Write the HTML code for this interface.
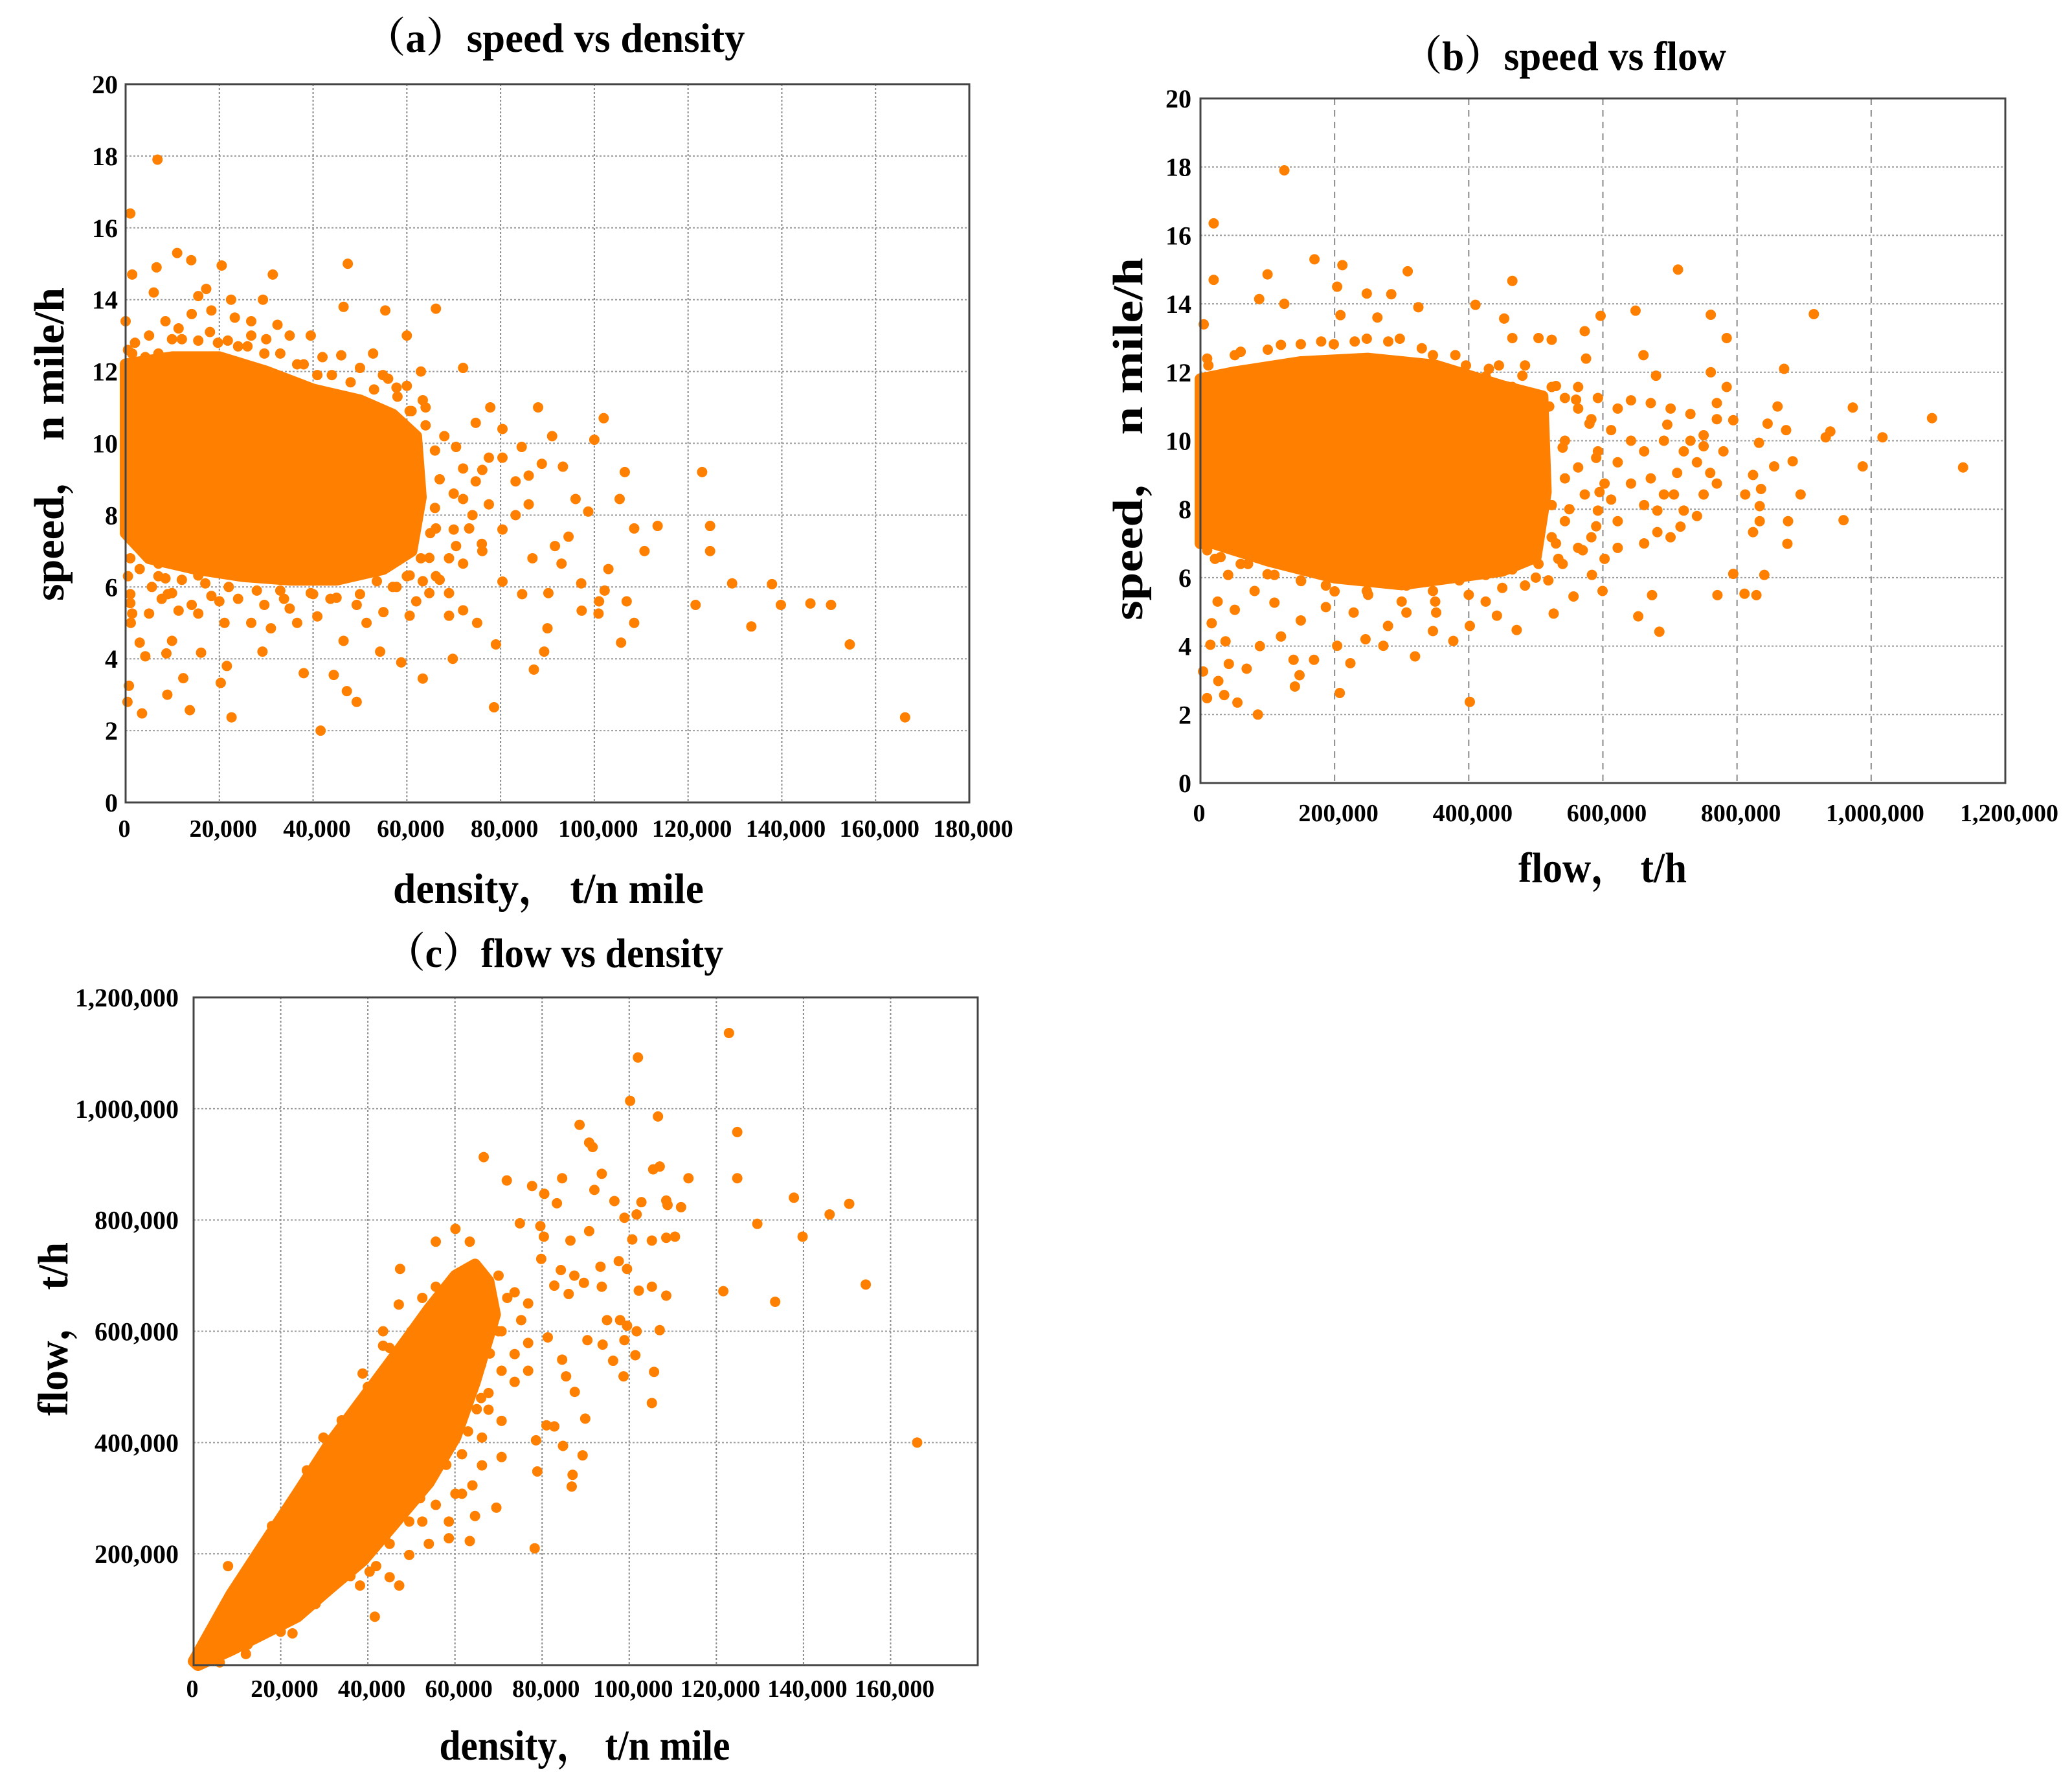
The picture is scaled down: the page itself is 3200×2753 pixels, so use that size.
<!DOCTYPE html>
<html><head><meta charset="utf-8"><title>Traffic flow scatter plots</title>
<style>
html,body{margin:0;padding:0;background:#fff;}
svg{display:block;}
text{font-family:"Liberation Serif","Noto Serif CJK SC",serif;font-weight:bold;fill:#000;}
</style></head>
<body>
<svg id="fig" width="3200" height="2753" viewBox="0 0 3200 2753" xmlns="http://www.w3.org/2000/svg"></svg>
<script>
// ---------- Chart (a): speed vs density ----------
const aTicksX = [0,20000,40000,60000,80000,100000,120000,140000,160000,180000];
const aTicksY = [0,2,4,6,8,10,12,14,16,18,20];
const aCoreX = [0,10,20,30,40,50,57,62,63,61,55,45,35,25,15,5,0];
const aCoreY = [12.2,12.4,12.4,12.0,11.5,11.2,10.8,10.2,8.5,7.0,6.5,6.2,6.2,6.3,6.5,6.8,7.5];
const aDensity = [6.8,1,11,14,20.5,47.4,31.4,1.4,6.6,6,17.2,29.3,22.5,46.5,55.4,66.2,0,35,39.5,60,52.8,63,72,46,77.8,88,102,100,91,84.5,106.5,123,93.3,98.7,105.4,96,124.7,124.7,113.5,108.5,110.7,129.4,137.9,121.6,139.8,146.1,150.5,133.5,154.5,166.3,105.7,106.9,108.5,101,102.2,97.2,103,90,89.3,87.1,79,78.6,69.8,63.4,58.8,54.3,49.3,41.6,38,47.2,44.4,29.2,22.6,21.6,20.3,13.7,12.3,8.9,3.5,0.4,0.7,8.7,4.2,16.1,3,9.9,5,1,1.4,1.1,72,75,69,66.2,72,76.1,80.4,83.2,86,86.8,80.4,84.6,93,94.5,91.6,90.2,97.3,100.9,74.7,77.5,80.4,74.7,70.5,72,77.5,66.2,64.8,60.6,57.8,51.4,46.5,40.9,36.6,31,26.8,21.1,15.5,11.3,7.7,5.6,7,8.5,83.2,88.8,86,80.4,76.1,73.3,70.5,64.8,63.4,69,60.6,53.6,49.3,43.7,39.5,33.8,29.6,24,18.3,14.1,9.9,11.3,15.5,60.6,63.4,57.8,54.9,40.9,36.6,29.6,24,19.7,15.5,11.3,8.5,7,4.2,1.4,9.9,14.1,18.3,23.3,26.8,32.4,21.8,26.8,15.5,
  2,5,12,18,26,33,38,44,48,53,58,61,64,66,67,66,65,63,60,57,50,45,40,33,28,22,17,12,7,3,1,68,70,70,69,67,72,74,76,64,60,56,50,42,30,0.5,0.5,1,9,20,35,55,62];
const aSpeed = [17.9,16.4,15.3,15.1,14.95,15.0,14.7,14.7,14.9,14.2,14.3,14.0,14.0,13.8,13.7,13.75,13.4,13.0,13.0,13.0,12.5,12.0,12.1,12.45,11.0,11.0,10.7,10.1,10.2,9.9,9.2,9.2,9.35,8.1,8.45,8.45,7.7,7.0,7.7,7.63,7.0,6.1,6.08,5.5,5.5,5.54,5.5,4.9,4.4,2.37,4.45,5.6,5.0,5.6,5.9,6.1,6.5,4.85,4.2,3.7,4.4,2.65,4.0,3.45,3.9,4.2,2.8,2.0,3.6,3.1,3.55,4.2,2.37,3.8,3.33,2.57,3.46,3.0,2.48,2.8,3.25,4.15,4.07,4.17,4.45,4.5,5.26,5.55,5.26,5.0,5.35,5.0,5.2,6.3,6.65,7.0,7.6,8.0,8.3,6.8,6.15,5.8,6.65,7.4,7.14,5.83,5.34,5.26,8.94,9.6,10.4,10.57,9.9,8.45,8.3,7.63,5.83,5.2,6.0,5.0,4.5,5.18,5.0,4.85,5.0,5.0,5.26,5.34,5.67,6.0,6.65,6.24,8.94,9.43,9.1,9.6,9.26,7.63,7.14,6.81,6.16,5.83,6.32,6.16,5.5,5.67,5.83,5.67,5.5,5.67,5.75,5.5,5.83,6.65,6.32,10.9,11.2,11.55,11.9,11.9,12.2,12.5,12.7,12.8,12.86,13.2,13.4,12.5,12.4,12.5,12.9,13.6,13.7,13.5,13.0,13.3,12.86,13.4,14.1,
  12.8,13.0,12.9,13.1,12.7,12.5,12.2,11.9,11.7,11.5,11.3,10.9,10.5,9.8,9.0,8.2,7.5,6.8,6.3,6.0,5.8,5.7,5.8,5.9,5.9,6.0,6.1,6.2,6.3,6.5,6.8,10.2,8.6,7.6,6.8,6.2,9.3,8.0,7.2,11.0,11.6,11.8,12.1,12.4,12.9,12.6,6.3,5.8,5.8,5.6,5.4,5.3,5.6];

// ---------- Chart (b): speed vs flow ----------
const bTicksX = [0,200000,400000,600000,800000,1000000,1200000];
const bTicksY = [0,2,4,6,8,10,12,14,16,18,20];
const bCoreX = [0,50,150,250,350,450,510,515,500,450,300,200,100,20,0];
const bCoreY = [11.8,12.0,12.3,12.4,12.2,11.6,11.3,8.5,6.6,6.2,5.8,6.0,6.5,7.0,7.0];
const bFlow = [125,19.7,170,211.6,309,712,19.7,100,465,203.8,248,284.5,87.6,125,324.9,410,4.9,208.7,263.8,452.8,596.6,648.7,760.9,914.5,572.9,784.6,504,523.7,465,660.5,574.9,760.9,870.2,679.2,860.4,972.6,1090.7,1016.9,939.1,932.2,987.4,1137,845.6,832.8,873.2,794.4,883,855.4,823.9,894.8,835.8,812.2,833.8,833.8,823.9,958.8,876.1,875.1,794.4,840.7,770.8,811.2,828.9,684.2,652.7,673.3,599.5,526.6,556.2,471.5,442,401.6,377,319.9,401.6,207.7,85.6,55.1,9.8,35.4,3.9,26.6,68.9,42.3,37.4,14.8,88.6,140.8,147.7,138.8,169.3,223.5,272.7,346.6,279.6,203.8,246.1,120.1,16.7,25.6,51.2,80.7,110.3,149.6,187,228.4,307.1,351.4,425.3,483.9,518.7,583.7,602.5,622.1,661.5,681.2,700.9,715.7,740.3,750.2,769.9,760,740.3,720.6,750.2,769.9,730.5,701,671.4,641.9,622.1,641.9,661.5,622.1,641.9,671.4,691,661.5,622.1,681.2,710.7,691,612.3,602.5,612.3,730.5,705.9,720.6,779.7,784.6,769.9,750.2,696,523.7,543.4,563.1,582.8,543.4,563.1,573,543.4,523.7,563.1,582.8,592.6,592.6,543.4,523.7,504,563.1,592.6,533.6,504,465,425.3,386,346.6,307.1,248,187,149.6,110.3,70.9,41.3,21.7,11.8,6.9,11.8,51.2,100.4,149.6,198.8,248,297.2,346.6,395.8,445,483.9,465,425.3,
  10,60,120,180,230,280,330,380,430,480,530,560,580,590,595,590,570,540,500,450,400,350,300,250,200,150,100,60,30,10,5,5,540,550,530,520];
const bSpeed = [17.9,16.35,15.3,15.13,14.95,15.0,14.7,14.86,14.67,14.5,14.3,14.28,14.14,14.0,13.9,13.97,13.4,13.67,13.6,13.57,13.65,13.8,13.68,13.7,13.2,13.0,13.0,12.95,13.0,12.5,12.4,12.0,12.1,11.9,11.0,10.97,10.66,10.1,10.27,10.1,9.25,9.22,10.5,9.94,10.31,10.6,9.4,9.25,9.0,8.43,8.59,8.43,8.09,7.65,7.33,7.68,7.65,6.99,6.11,6.08,5.49,5.53,5.49,4.42,4.87,5.49,5.61,4.95,5.45,4.47,4.89,4.59,4.15,3.7,2.37,2.63,2.0,2.35,2.48,2.57,3.26,2.98,3.34,3.48,4.14,4.04,4.0,2.82,3.15,3.6,3.6,3.5,4.01,4.44,4.59,4.01,4.2,4.28,4.67,5.3,5.06,5.61,5.27,4.75,5.14,4.98,4.98,4.98,5.3,5.77,5.92,6.08,6.55,6.87,7.0,7.33,7.18,7.49,7.8,8.43,8.75,9.06,9.37,9.69,10.16,10.63,10.78,10.94,11.1,11.18,10.94,10.0,9.69,9.37,8.75,8.9,8.43,8.12,7.65,7.96,9.06,10.0,10.31,8.75,8.28,10.0,8.43,7.96,9.69,11.57,11.1,9.84,10.47,11.57,11.25,10.94,10.63,10.0,9.22,8.43,7.65,7.18,6.87,7.18,7.96,9.69,8.9,8.12,10.78,11.57,11.25,6.55,6.4,6.24,6.08,5.92,5.61,5.77,5.61,5.77,5.92,6.08,6.4,6.08,6.55,7.18,11.57,12.2,12.5,12.66,12.82,12.82,12.98,12.98,12.5,12.2,12.2,12.2,11.57,11.88,
  12.4,12.6,12.8,12.9,12.9,12.9,12.7,12.5,12.1,11.9,11.6,11.2,10.5,9.5,8.5,7.5,6.8,6.4,6.0,5.7,5.5,5.3,5.3,5.5,5.6,5.9,6.1,6.4,6.6,6.8,7.5,11.5,9.8,8.0,7.0,11.0];

// ---------- Chart (c): flow vs density ----------
const cTicksX = [0,20000,40000,60000,80000,100000,120000,140000,160000];
const cTicksY = [200000,400000,600000,800000,1000000,1200000];
const cCoreX = [0,8.6,16.2,23.8,31.3,38.9,46.5,54,60.1,64.6,67.7,69.2,64.6,60.1,54,46.5,38.9,31.3,23.8,16.2,8.6,1];
const cCoreY = [7,127,218,308,399,479,559,640,700,720,690,630,509,409,328,258,188,138,87,57,27,0];
const cDensity = [122.9,102,100.2,106.6,124.8,88.6,90.8,91.6,66.6,107,105.5,93.7,84.6,124.8,113.6,71.9,77.7,80.5,92,83.4,96.6,102.8,108.5,108.8,111.9,137.8,146,150.5,129.4,139.8,110.5,108.5,105.2,100.7,90.8,86.5,98.9,101.7,55.6,60.1,63.4,74.9,79.6,80.4,47.4,47.1,121.6,133.5,154.3,166.1,102.2,108.5,105.2,99.5,97.6,93.4,93.7,89.6,86.1,82.8,87.4,84.3,79.8,107,101.7,97.9,94.9,99.5,98.9,93.9,90.4,101.4,96.3,98.7,105.7,105.2,84.6,85.5,87.5,89.9,81,82.8,78.6,84.8,89.3,78.9,87,86.8,78.3,70.7,69.5,64,64.6,63.4,58.6,58.6,49.5,47.2,45,40.4,38.2,41.9,41.6,22.7,20.7,17,12.4,8.6,7.9,17,29.8,34.4,38.8,43.5,43.5,52.5,55.6,61.6,73.7,76.8,75.2,70.7,76.8,81.3,73.7,70.7,67.7,73.7,76.8,67.7,61.6,66.2,61.6,70.7,66.2,60.1,55.6,52.5,61.6,54,49.5,45,35.9,31.3,26.8,19.2,13.2,5.6,
  3,6,12,20,28,36,44,50,56,62,70,72,70,68,66,63,58,52,44,36,28,20,12,6,45,40,34,26,18,10,60,66,65];
const cFlow = [1136,1092,1014,986,958,971,939,931,913,896,891,883,875,875,875,871,861,847,854,830,834,832,835,827,823,840,810,829,793,770,770,768,763,765,780,763,804,810,761,784,761,794,789,770,712,648,672,653,684,400,673,664,680,712,726,716,680,687,667,682,700,710,730,602,600,620,620,610,584,576,584,557,547,519,527,471,549,519,491,443,431,429,404,394,377,348,342,321,210,374,283,323,268,223,228,258,198,143,158,168,143,178,87,57,87,67,37,27,178,208,409,429,524,600,574,660,680,660,670,650,620,600,579,589,559,529,489,509,529,459,439,409,379,439,359,308,288,258,308,218,258,218,198,178,138,117,97,57,
  20,60,150,240,330,430,530,600,660,690,700,660,600,560,480,420,360,300,230,160,110,60,20,5,570,500,440,350,250,140,610,540,460];

const NS = 'http://www.w3.org/2000/svg';
const svg = document.getElementById('fig');
const ORANGE = '#ff8000';

function mk(tag, attrs, parent) {
  const e = document.createElementNS(NS, tag);
  for (const k in attrs) e.setAttribute(k, attrs[k]);
  (parent || svg).appendChild(e);
  return e;
}
function fmt(v) { return v.toLocaleString('en-US'); }

function chart(cfg) {
  const g = mk('g', {});
  
  
  const sx = v => cfg.L + (v - cfg.x0) / (cfg.x1 - cfg.x0) * (cfg.R - cfg.L);
  const sy = v => cfg.B - (v - cfg.y0) / (cfg.y1 - cfg.y0) * (cfg.B - cfg.T);
  cfg.ticksX.forEach(t => {
    if (t <= cfg.x0 || t >= cfg.x1) return;
    const l = mk('line', {x1: sx(t), x2: sx(t), y1: cfg.T, y2: cfg.B, stroke: '#8a8a8a', 'stroke-width': 2, 'stroke-dasharray': cfg.vdash}, g);
    
    
  });
  cfg.ticksY.forEach(t => {
    if (t <= cfg.y0 || t >= cfg.y1) return;
    const l = mk('line', {x1: cfg.L, x2: cfg.R, y1: sy(t), y2: sy(t), stroke: '#9a9a9a', 'stroke-width': 2, 'stroke-dasharray': '3 3'}, g);
    
    
  });
  let d = '';
  cfg.coreX.forEach((x, i) => { d += (i ? 'L' : 'M') + sx(x * cfg.coreScaleX) + ',' + sy(cfg.coreY[i] * cfg.coreScaleY); });
  const core = mk('path', {d: d + 'Z', fill: ORANGE, stroke: ORANGE, 'stroke-width': 18, 'stroke-linejoin': 'round'}, g);
  
  
  cfg.px.forEach((x, i) => {
    const c = mk('circle', {cx: sx(x * cfg.pScaleX), cy: sy(cfg.py[i] * cfg.pScaleY), r: 8, fill: ORANGE}, g);
    
    
  });
  const fr = mk('rect', {x: cfg.L, y: cfg.T, width: cfg.R - cfg.L, height: cfg.B - cfg.T, fill: 'none', stroke: '#444', 'stroke-width': 3}, g);
  
  
  cfg.ticksX.forEach(t => {
    const tx = mk('text', {x: sx(t) + (t === 0 ? -2 : 6), y: cfg.xLabY, 'font-size': 38, 'text-anchor': 'middle'}, g);
    tx.textContent = fmt(t);
    
    
  });
  cfg.ticksY.forEach(t => {
    const ty = mk('text', {x: cfg.yLabX, y: sy(t) + 14, 'font-size': 40, 'text-anchor': 'end'}, g);
    ty.textContent = fmt(t);
    
    
  });
  const ti = mk('text', {x: cfg.title[1], y: cfg.title[2], 'font-size': 64, 'text-anchor': 'middle', textLength: cfg.title[3], lengthAdjust: 'spacingAndGlyphs'}, g);
  ti.textContent = cfg.title[0];
  
  
  const xt = mk('text', {x: cfg.xt[1], y: cfg.xt[2], 'font-size': 66, 'text-anchor': 'middle', textLength: cfg.xt[3], lengthAdjust: 'spacingAndGlyphs'}, g);
  xt.textContent = cfg.xt[0];
  
  
  const yt = mk('text', {x: 0, y: 0, 'font-size': 66, 'text-anchor': 'middle', textLength: cfg.yt[3], lengthAdjust: 'spacingAndGlyphs', transform: 'translate(' + cfg.yt[1] + ',' + cfg.yt[2] + ') rotate(-90)'}, g);
  yt.textContent = cfg.yt[0];
  
  
}

chart({name: 'chart-a-speed-vs-density', L: 194, R: 1497, T: 130, B: 1239, x0: 0, x1: 180000, y0: 0, y1: 20,
  ticksX: aTicksX, ticksY: aTicksY, vdash: '3 3',
  coreX: aCoreX, coreY: aCoreY, coreScaleX: 1000, coreScaleY: 1,
  px: aDensity, py: aSpeed, pScaleX: 1000, pScaleY: 1,
  xLabY: 1292, yLabX: 182,
  title: ['（a）speed vs density', 857, 80, 587],
  xt: ['density， t/n mile', 847, 1394, 480],
  yt: ['speed， n mile/h', 98, 686, 484]});

chart({name: 'chart-b-speed-vs-flow', L: 1854, R: 3097, T: 152, B: 1209, x0: 0, x1: 1200000, y0: 0, y1: 20,
  ticksX: bTicksX, ticksY: bTicksY, vdash: '10 8',
  coreX: bCoreX, coreY: bCoreY, coreScaleX: 1000, coreScaleY: 1,
  px: bFlow, py: bSpeed, pScaleX: 1000, pScaleY: 1,
  xLabY: 1268, yLabX: 1840,
  title: ['（b）speed vs flow', 2416, 108, 500],
  xt: ['flow， t/h', 2475, 1362, 260],
  yt: ['speed， n mile/h', 1764, 678, 560]});

chart({name: 'chart-c-flow-vs-density', L: 299, R: 1510, T: 1540, B: 2571, x0: 0, x1: 180000, y0: 0, y1: 1200000,
  ticksX: cTicksX, ticksY: cTicksY, vdash: '3 3',
  coreX: cCoreX, coreY: cCoreY, coreScaleX: 1000, coreScaleY: 1000,
  px: cDensity, py: cFlow, pScaleX: 1000, pScaleY: 1000,
  xLabY: 2620, yLabX: 276,
  title: ['（c）flow vs density', 857, 1493, 520],
  xt: ['density， t/n mile', 903, 2717, 449],
  yt: ['flow， t/h', 104, 2052, 268]});
</script>
</body></html>
